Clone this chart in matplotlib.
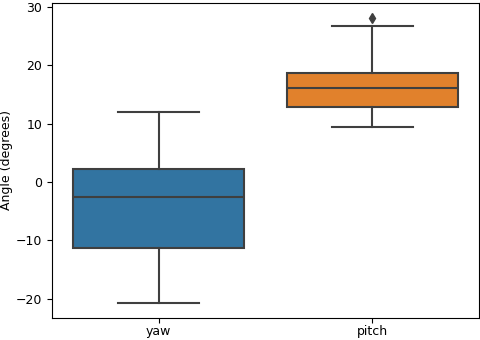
import matplotlib
matplotlib.use('Agg')
import matplotlib.pyplot as plt

# box statistics
labels = ['yaw', 'pitch']
whislo = [-20.8, 9.5]
q1 = [-11.3, 12.9]
med = [-2.5, 16.1]
q3 = [2.3, 18.7]
whishi = [12.1, 26.7]
fliers = [[], [28.2]]
colors = ['#3274a1', '#e1812c']
line_col = '#3f3f3f'

stats = []
for i in range(len(labels)):
    stats.append(dict(label=labels[i], whislo=whislo[i], q1=q1[i], med=med[i],
                      q3=q3[i], whishi=whishi[i], fliers=fliers[i]))

plt.rcParams['font.size'] = 9
fig, ax = plt.subplots(figsize=(4.8, 3.4), dpi=100)
bp = ax.bxp(stats, positions=range(len(labels)), widths=0.8, patch_artist=True,
            boxprops=dict(edgecolor=line_col, linewidth=1.5),
            medianprops=dict(color=line_col, linewidth=1.5),
            whiskerprops=dict(color=line_col, linewidth=1.5),
            capprops=dict(color=line_col, linewidth=1.5),
            flierprops=dict(marker='d', markerfacecolor=line_col,
                            markeredgecolor=line_col, markersize=5))
for patch, c in zip(bp['boxes'], colors):
    patch.set_facecolor(c)
for cap in bp['caps']:
    x = cap.get_xdata()
    mid = (x[0] + x[1]) / 2
    cap.set_xdata([mid - 0.19, mid + 0.19])

ax.set_xlim(-0.5, 1.5)
ax.tick_params(axis='x', pad=2)
ax.set_ylabel('Angle (degrees)', labelpad=2)
fig.subplots_adjust(left=0.108, right=0.998, top=0.99, bottom=0.066)
fig.savefig('out.png')
